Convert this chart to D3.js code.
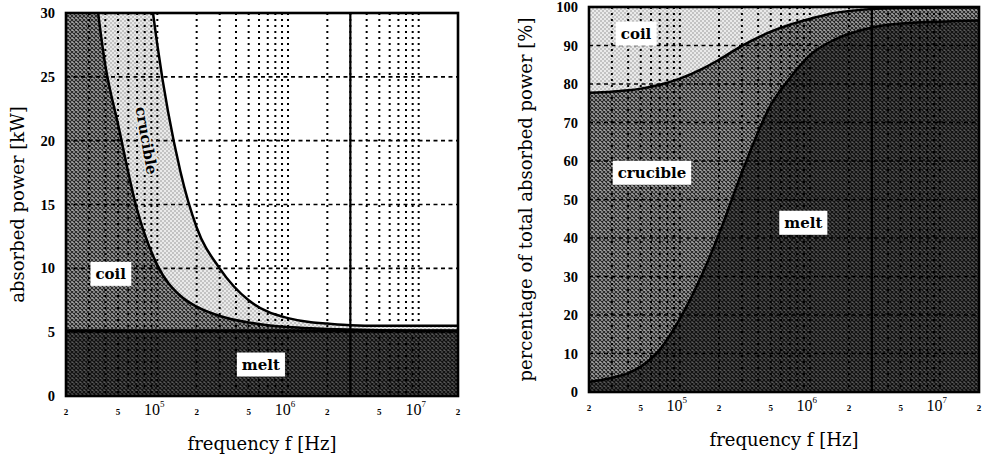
<!DOCTYPE html>
<html>
<head>
<meta charset="utf-8">
<script src="https://cdn.jsdelivr.net/npm/d3@7"></script>
<style>
  body { margin: 0; background: #fff; }
  svg text { font-family: "DejaVu Serif", serif; fill: #000; }
  .ytick { font-family: "Liberation Serif", serif; font-weight: bold; font-size: 14.5px; }
  .xtick-minor { font-family: "Liberation Serif", serif; font-weight: bold; font-size: 9px; }
  .xtick-dec { font-family: "Liberation Serif", serif; font-size: 16px; }
  .xtick-exp { font-family: "Liberation Serif", serif; font-size: 9px; }
  .title { font-size: 18px; }
  .region { font-size: 15px; font-weight: bold; }
</style>
</head>
<body>
<svg width="982" height="461"></svg>
<script>

// frequencies [Hz] the curves were read at
var freq = [2e4, 3e4, 4e4, 5e4, 7e4, 1e5, 1.5e5, 2e5, 3e5, 5e5, 7e5, 1e6, 1.5e6, 2e6, 3e6, 5e6, 1e7, 2e7];

// left: absorbed power [kW] per part (stacked melt, coil, crucible)
var meltKW     = [5.1, 5.1, 5.1, 5.1, 5.1, 5.1, 5.1, 5.1, 5.1, 5.1, 5.1, 5.1, 5.1, 5.1, 5.1, 5.1, 5.1, 5.1];
var coilKW     = [46.9, 30.9, 20.8, 16.2, 9.5, 5.15, 2.75, 1.9, 1.17, 0.66, 0.45, 0.3, 0.2, 0.15, 0.1, 0.05, 0.02, 0.0];
var crucibleKW = [84, 59, 46.1, 36.7, 26.4, 17.25, 9.75, 6.2, 3.73, 1.74, 1.05, 0.7, 0.47, 0.42, 0.35, 0.35, 0.38, 0.4];

// right: percentage of total absorbed power (stacked melt, crucible, coil)
var meltPct     = [2.6, 3.7, 4.9, 6.6, 11.0, 19, 30.9, 41, 57, 74.5, 81.5, 87.5, 91.3, 93, 94.7, 95.7, 96.2, 96.5];
var cruciblePct = [75.1, 74.3, 73.45, 72.2, 68.8, 62.4, 53.1, 45.3, 32.9, 19.1, 13.9, 9.4, 7.1, 5.95, 4.8, 4.05, 3.65, 3.4];
var coilPct     = [22.3, 22.0, 21.65, 21.2, 20.2, 18.6, 16.0, 13.7, 10.1, 6.4, 4.6, 3.1, 1.6, 1.05, 0.5, 0.25, 0.15, 0.1];

// axes
var freqLabels = [2e4, 5e4, 1e5, 2e5, 5e5, 1e6, 2e6, 5e6, 1e7, 2e7];
var powerTicks = [0, 5, 10, 15, 20, 25, 30];
var pctTicks = [0, 10, 20, 30, 40, 50, 60, 70, 80, 90, 100];
var markFreq = 3e6; // solid vertical line

var svg = d3.select("svg");
var defs = svg.append("defs");

// halftone-like fills
function crossHatch(id, bg, fg, size, w) {
  var p = defs.append("pattern").attr("id", id)
    .attr("patternUnits", "userSpaceOnUse")
    .attr("width", size).attr("height", size);
  p.append("rect").attr("width", size).attr("height", size).attr("fill", bg);
  p.append("path")
    .attr("d", "M0,0L" + size + "," + size + "M" + size + ",0L0," + size)
    .attr("stroke", fg).attr("stroke-width", w);
}
function stipple(id, bg, fg, size, r) {
  var p = defs.append("pattern").attr("id", id)
    .attr("patternUnits", "userSpaceOnUse")
    .attr("width", size).attr("height", size);
  p.append("rect").attr("width", size).attr("height", size).attr("fill", bg);
  p.append("circle").attr("cx", size / 4).attr("cy", size / 4).attr("r", r).attr("fill", fg);
  p.append("circle").attr("cx", size * 3 / 4).attr("cy", size * 3 / 4).attr("r", r).attr("fill", fg);
}
crossHatch("dark", "#5a5a5a", "#121212", 4, 1.3);
crossHatch("medium", "#a6a6a6", "#262626", 4, 1.1);
stipple("light", "#eaeaea", "#8a8a8a", 4, 0.75);

function drawPanel(p) {
  var x = d3.scaleLog().domain([2e4, 2e7]).range([p.left, p.right]);
  var y = d3.scaleLinear().domain([0, p.ymax]).range([p.bottom, p.top]);
  var g = svg.append("g");

  defs.append("clipPath").attr("id", p.id + "-clip")
    .append("rect")
    .attr("x", p.left).attr("y", p.top)
    .attr("width", p.right - p.left).attr("height", p.bottom - p.top);

  var rows = freq.map(function(f, i) {
    var r = {f: f};
    p.keys.forEach(function(k) { r[k] = p.series[k][i]; });
    return r;
  });
  var layers = d3.stack().keys(p.keys)(rows);

  var area = d3.area()
    .x(function(d) { return x(d.data.f); })
    .y0(function(d) { return y(d[0]); })
    .y1(function(d) { return y(d[1]); })
    .curve(d3.curveMonotoneX);
  var line = d3.line()
    .x(function(d) { return x(d.data.f); })
    .y(function(d) { return y(d[1]); })
    .curve(d3.curveMonotoneX);

  var plot = g.append("g").attr("clip-path", "url(#" + p.id + "-clip)");

  plot.selectAll("path.layer")
    .data(layers)
    .enter().append("path")
    .attr("class", "layer")
    .attr("d", area)
    .attr("fill", function(d) { return "url(#" + p.fills[d.key] + ")"; });

  // grid
  var vgrid = x.ticks().filter(function(f) { return f > 2e4 && f < 2e7; });
  plot.selectAll("line.vgrid")
    .data(vgrid)
    .enter().append("line")
    .attr("x1", x).attr("x2", x)
    .attr("y1", p.top).attr("y2", p.bottom)
    .attr("stroke", "#000").attr("stroke-width", 2)
    .attr("stroke-dasharray", "2,4");
  var hgrid = p.yTicks.filter(function(v) { return v > 0 && v < p.ymax; });
  plot.selectAll("line.hgrid")
    .data(hgrid)
    .enter().append("line")
    .attr("x1", p.left).attr("x2", p.right)
    .attr("y1", y).attr("y2", y)
    .attr("stroke", "#000").attr("stroke-width", 1.7)
    .attr("stroke-dasharray", "4,3.5");

  // boundaries between parts
  plot.selectAll("path.edge")
    .data(layers.slice(0, p.edges))
    .enter().append("path")
    .attr("class", "edge")
    .attr("d", line)
    .attr("fill", "none")
    .attr("stroke", "#000")
    .attr("stroke-width", function(d, i) { return i === 0 && p.id === "power" ? 3.2 : 2.5; });

  plot.append("line")
    .attr("x1", x(markFreq)).attr("x2", x(markFreq))
    .attr("y1", p.top).attr("y2", p.bottom)
    .attr("stroke", "#000").attr("stroke-width", 2.2);

  // frame
  g.append("rect")
    .attr("x", p.left).attr("y", p.top)
    .attr("width", p.right - p.left).attr("height", p.bottom - p.top)
    .attr("fill", "none").attr("stroke", "#000").attr("stroke-width", 2.6);

  // y tick labels
  g.selectAll("text.ytick")
    .data(p.yTicks)
    .enter().append("text")
    .attr("class", "ytick")
    .attr("x", p.left - 11)
    .attr("y", y)
    .attr("dy", "0.35em")
    .attr("text-anchor", "end")
    .text(function(d) { return d; });

  // x tick labels
  freqLabels.forEach(function(f) {
    var e = Math.log10(f);
    if (Math.abs(e - Math.round(e)) < 1e-9) {
      var t = g.append("text")
        .attr("x", x(f) - 3)
        .attr("y", p.bottom + 19)
        .attr("text-anchor", "middle");
      t.append("tspan").attr("class", "xtick-dec").text("10");
      t.append("tspan").attr("class", "xtick-exp").attr("dy", -8).text(Math.round(e));
    } else {
      g.append("text")
        .attr("class", "xtick-minor")
        .attr("x", x(f))
        .attr("y", p.bottom + 19)
        .attr("text-anchor", "middle")
        .text(Math.round(f / Math.pow(10, Math.floor(e))));
    }
  });

  // axis titles
  g.append("text")
    .attr("class", "title")
    .attr("x", (p.left + p.right) / 2)
    .attr("y", p.bottom + 54)
    .attr("text-anchor", "middle")
    .text("frequency f [Hz]");
  g.append("text")
    .attr("class", "title")
    .attr("transform", "translate(" + p.titleX + "," + (p.top + p.bottom) / 2 + ") rotate(-90)")
    .attr("text-anchor", "middle")
    .text(p.yTitle);

  // region labels
  p.labels.forEach(function(l) {
    var lg = g.append("g")
      .attr("transform", "translate(" + x(l.f) + "," + y(l.v) + ") rotate(" + (l.angle || 0) + ")");
    var t = lg.append("text")
      .attr("class", "region")
      .attr("text-anchor", "middle")
      .attr("dy", "0.32em")
      .text(l.text);
    if (l.box) {
      var b = t.node().getBBox();
      lg.insert("rect", "text")
        .attr("x", b.x - 5).attr("y", b.y - 3)
        .attr("width", b.width + 10).attr("height", b.height + 6)
        .attr("fill", "#fff");
    } else {
      // keep the text clear of the grid dots
      t.attr("stroke", "#e4e4e4").attr("stroke-width", 4)
        .attr("stroke-linejoin", "round").attr("paint-order", "stroke");
    }
  });
}

drawPanel({
  id: "power",
  left: 66, right: 458, top: 13, bottom: 396,
  ymax: 30, yTicks: powerTicks,
  keys: ["melt", "coil", "crucible"],
  series: {melt: meltKW, coil: coilKW, crucible: crucibleKW},
  fills: {melt: "dark", coil: "medium", crucible: "light"},
  edges: 3,
  titleX: 24,
  yTitle: "absorbed power [kW]",
  labels: [
    {text: "coil", f: 4.4e4, v: 9.55, box: true},
    {text: "melt", f: 6.2e5, v: 2.45, box: true},
    {text: "crucible", f: 8.2e4, v: 20, angle: 80}
  ]
});

drawPanel({
  id: "share",
  left: 589, right: 979, top: 7, bottom: 392,
  ymax: 100, yTicks: pctTicks,
  keys: ["melt", "crucible", "coil"],
  series: {melt: meltPct, crucible: cruciblePct, coil: coilPct},
  fills: {melt: "dark", crucible: "medium", coil: "light"},
  edges: 2,
  titleX: 532,
  yTitle: "percentage of total absorbed power [%]",
  labels: [
    {text: "coil", f: 4.6e4, v: 93, box: true},
    {text: "crucible", f: 6.1e4, v: 56.9, box: true},
    {text: "melt", f: 8.9e5, v: 43.9, box: true}
  ]
});

</script>
</body>
</html>
